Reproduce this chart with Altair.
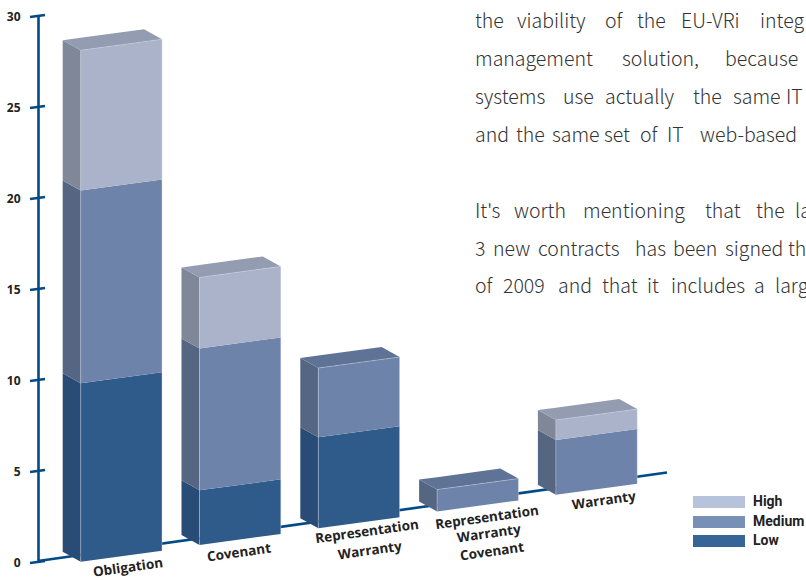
import altair as alt
import pandas as pd

# Contract-type breakdown by risk level
categories = [
    ["Obligation"],
    ["Covenant"],
    ["Representation", "Warranty"],
    ["Representation", "Warranty", "Covenant"],
    ["Warranty"],
]
low = [9.8, 3.0, 5.0, 0.0, 0.0]
medium = [10.6, 7.8, 3.8, 1.2, 3.0]
high = [7.7, 3.9, 0.0, 0.0, 1.1]
ticks = [0, 5, 10, 15, 20, 25, 30]
levels = ["Low", "Medium", "High"]

front = {"Low": "#2F5B8B", "Medium": "#6E83AA", "High": "#AAB3C9"}
side = {"Low": "#284C75", "Medium": "#546682", "High": "#7F8798"}
top = {"Low": "#284C75", "Medium": "#5F7397", "High": "#939CB1"}
swatch = {"Low": "#366597", "Medium": "#7990B6", "High": "#B7C3DB"}

NAVY = "#004B85"
PX_PER_UNIT = 546 / 30
ZERO_PX = 562


def py(px):
    """Page pixel row expressed in axis units."""
    return (ZERO_PX - px) / PX_PER_UNIT


# Oblique projection of the bars
X0, X_STEP, BAR_W = 80.7, 118.8, 81.3
RISE = 16.75 / PX_PER_UNIT     # baseline climb per category
DEPTH_X, DEPTH_Y = 18.0, 10.0 / PX_PER_UNIT
EDGE_Y = 11.0 / PX_PER_UNIT    # climb of a front edge across the bar

faces, edges = [], []
for i, _ in enumerate(categories):
    xl, xr = X0 + i * X_STEP, X0 + i * X_STEP + BAR_W
    xb = xl - DEPTH_X
    base = py(561.7) + i * RISE
    stack = base
    heights = {"Low": low[i], "Medium": medium[i], "High": high[i]}
    drawn = [k for k in levels if heights[k] > 0]
    for lev in drawn:
        v0, v1 = stack, stack + heights[lev]
        fid = f"{i}-{lev}"
        # side face
        faces += [
            dict(id=fid + "-s", x=xb, y=v0 + DEPTH_Y, y2=v1 + DEPTH_Y, c=side[lev]),
            dict(id=fid + "-s", x=xl, y=v0, y2=v1, c=side[lev]),
        ]
        # front face
        faces += [
            dict(id=fid + "-f", x=xl, y=v0, y2=v1, c=front[lev]),
            dict(id=fid + "-f", x=xr, y=v0 + EDGE_Y, y2=v1 + EDGE_Y, c=front[lev]),
        ]
        edges += [
            dict(id=fid + "-e1", x=xl, y=v0),
            dict(id=fid + "-e1", x=xl, y=v1),
            dict(id=fid + "-e2", x=xr, y=v0 + EDGE_Y),
            dict(id=fid + "-e2", x=xr, y=v1 + EDGE_Y),
        ]
        stack = v1
    # top face, spanning back edge to front edge
    t = stack
    c = top[drawn[-1]]
    slope = EDGE_Y / BAR_W
    xbr = xr - DEPTH_X
    faces += [
        dict(id=f"{i}-t", x=xb, y=t + DEPTH_Y, y2=t + DEPTH_Y, c=c),
        dict(id=f"{i}-t", x=xl, y=t, y2=t + DEPTH_Y + (xl - xb) * slope, c=c),
        dict(id=f"{i}-t", x=xbr, y=t + (xbr - xl) * slope, y2=t + DEPTH_Y + EDGE_Y, c=c),
        dict(id=f"{i}-t", x=xr, y=t + EDGE_Y, y2=t + EDGE_Y, c=c),
    ]
    edges += [
        dict(id=f"{i}-e3", x=xl, y=t),
        dict(id=f"{i}-e3", x=xr, y=t + EDGE_Y),
    ]

x_scale = alt.Scale(domain=[38, 806], nice=False, zero=False)
y_scale = alt.Scale(domain=[0, 30], nice=False, zero=False)
value_axis = alt.Axis(
    values=ticks, grid=False, ticks=False, title=None,
    domainColor=NAVY, domainWidth=2.6, labelPadding=18,
    labelFont="Open Sans", labelFontWeight="bold", labelFontSize=12, labelColor="#222222",
)
X = alt.X("x:Q", scale=x_scale, axis=None)
Y = alt.Y("y:Q", scale=y_scale, axis=value_axis, stack=False)

# Slanted ticks on the value axis
tick_rows = []
for v in ticks:
    tick_rows += [
        dict(id=v, x=30, y=v - 1.05 / PX_PER_UNIT),
        dict(id=v, x=45, y=v + 1.05 / PX_PER_UNIT),
    ]
tick_layer = alt.Chart(pd.DataFrame(tick_rows)).mark_line(color=NAVY, strokeWidth=2.4).encode(
    x=X, y=Y, detail="id:N"
)

baseline = alt.Chart(pd.DataFrame([
    dict(x=38, y=py(561)), dict(x=667, y=py(472.5)),
])).mark_line(color=NAVY, strokeWidth=2.6).encode(x=X, y=Y)

face_layer = alt.Chart(pd.DataFrame(faces)).mark_area(orient="vertical", interpolate="linear").encode(
    x=X,
    y=Y,
    y2="y2:Q",
    detail="id:N",
    color=alt.Color("c:N", scale=None),
)

edge_layer = alt.Chart(pd.DataFrame(edges)).mark_line(
    color="#D5DCEA", strokeWidth=0.8, opacity=0.5
).encode(x=X, y=Y, detail="id:N")

# Category labels follow the slope of the baseline
label_rows = []
label_anchor = [
    [(128, 568)],
    [(239, 553)],
    [(367, 532), (370, 551)],
    [(487, 518), (489, 534), (492, 552)],
    [(604, 501)],
]
for lines, anchors in zip(categories, label_anchor):
    for text, (x, y) in zip(lines, anchors):
        label_rows.append(dict(x=x, y=py(y), t=text))
label_layer = alt.Chart(pd.DataFrame(label_rows)).mark_text(
    font="Open Sans", fontWeight="bold", fontSize=13.5, angle=352, color="#222222",
    align="center", baseline="middle",
).encode(x=X, y=Y, text="t:N")

# Legend
leg_rows = [
    dict(x=693, x2=745, y=py(496), y2=py(508), c=swatch["High"], t="High", ty=py(502), lx=753),
    dict(x=693, x2=745, y=py(516), y2=py(528), c=swatch["Medium"], t="Medium", ty=py(522), lx=753),
    dict(x=693, x2=745, y=py(535), y2=py(547), c=swatch["Low"], t="Low", ty=py(541), lx=753),
]
leg_df = pd.DataFrame(leg_rows)
legend_rects = alt.Chart(leg_df).mark_rect().encode(
    x=X, x2="x2:Q", y=Y, y2="y2:Q", color=alt.Color("c:N", scale=None)
)
legend_text = alt.Chart(leg_df).mark_text(
    font="Roboto", fontWeight="bold", fontSize=14, color="#222222",
    align="left", baseline="middle",
).encode(
    x=alt.X("lx:Q", scale=x_scale, axis=None),
    y=alt.Y("ty:Q", scale=y_scale, axis=value_axis),
    text="t:N",
)

# Running text beside the chart, justified lines placed word by word
body_words = [
    (28, [(475, "the"), (517, "viability"), (605, "of"), (637, "the"), (681, "EU-VRi"), (760, "integ")]),
    (66, [(475, "management"), (622, "solution,"), (725, "because")]),
    (104, [(475, "systems"), (563, "use"), (605, "actually"), (693, "the"), (733, "same"), (786, "IT")]),
    (142, [(475, "and"), (516, "the"), (552, "same"), (604, "set"), (640, "of"), (667, "IT"), (700, "web-based")]),
    (218, [(475, "It's"), (514, "worth"), (583, "mentioning"), (705, "that"), (756, "the"), (795, "la")]),
    (256, [(475, "3"), (493, "new"), (538, "contracts"), (635, "has"), (673, "been"), (725, "signed"), (788, "th")]),
    (293, [(475, "of"), (503, "2009"), (558, "and"), (602, "that"), (647, "it"), (671, "includes"), (754, "a"), (775, "larg")]),
]
body_rows = [dict(x=x, y=py(b), t=w) for b, words in body_words for x, w in words]
body_layer = alt.Chart(pd.DataFrame(body_rows)).mark_text(
    font="Noto Sans CJK KR", fontWeight=300, fontSize=19.5, color="#333333",
    align="left", baseline="alphabetic",
).encode(x=X, y=Y, text="t:N")

chart = alt.layer(
    baseline, tick_layer, face_layer, edge_layer,
    label_layer, legend_rects, legend_text, body_layer,
).properties(
    width=768,
    height=546,
    padding={"left": 38, "top": 16, "right": 0, "bottom": 18},
    autosize=alt.AutoSizeParams(type="none"),
).configure_view(stroke=None)

chart.save("out.html", embed_options={"renderer": "svg", "actions": False})
